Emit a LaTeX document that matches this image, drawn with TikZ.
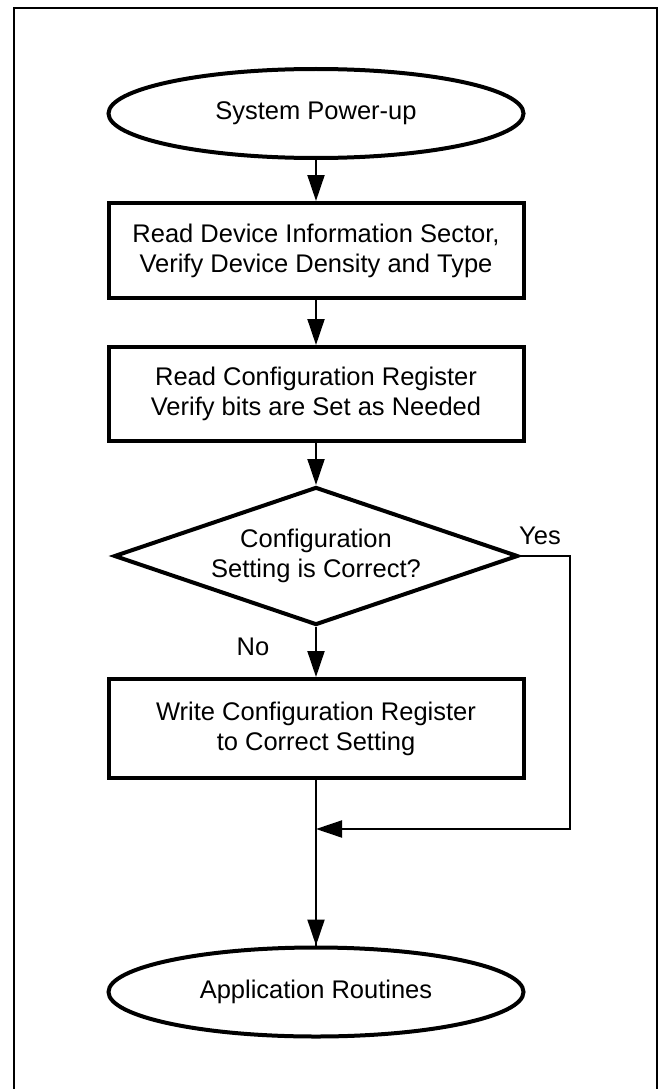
\documentclass[tikz,border=0pt]{standalone}
\usepackage{fontspec}
\setmainfont{Liberation Sans}
\usetikzlibrary{shapes.geometric,arrows.meta}
\begin{document}
\begin{tikzpicture}[x=1pt,y=1pt,
  every node/.style={font=\fontsize{25.5}{30}\selectfont},
  termbox/.style={ellipse, draw, line width=4pt, minimum width=415pt, minimum height=89pt, inner sep=0pt, align=center},
  procbox/.style={rectangle, draw, line width=4pt, minimum width=415pt, inner sep=0pt, align=center},
  decbox/.style={diamond, draw, line width=4pt, minimum width=404pt, minimum height=138pt, shape aspect=2.9, inner sep=0pt, align=center},
  flow/.style={line width=2pt, -{Triangle[length=26pt,width=17pt]}},
  lbl/.style={inner sep=0pt},
  frame/.style={line width=2.5pt}]
\useasboundingbox (0,0) rectangle (662,-1089);
\draw[frame] (14,-1089) -- (14,-8) -- (657,-8) -- (657,-1089);

\node[termbox] (start) at (316,-113.5) {System Power-up};
\node[procbox, minimum height=95pt] (rd) at (316,-250.5) {Read Device Information Sector,\\Verify Device Density and Type};
\node[procbox, minimum height=94pt] (rc) at (316,-394) {Read Configuration Register\\Verify bits are Set as Needed};
\node[decbox] (dec) at (316,-556) {Configuration\\Setting is Correct?};
\node[procbox, minimum height=99pt] (wc) at (316,-728.5) {Write Configuration Register\\to Correct Setting};
\node[termbox] (app) at (316,-992) {Application Routines};
\node[lbl] (yes) at (540,-536) {Yes};
\node[lbl] (no) at (253,-647) {No};
\coordinate (yr) at (570,-556);
\coordinate (yb) at (570,-829);
\coordinate (join) at (316,-829);

\draw[flow] (start) -- (rd);
\draw[flow] (rd) -- (rc);
\draw[flow] (rc) -- (dec);
\draw[flow] (dec) -- (wc);
\draw[line width=2pt] (wc) -- (app);
\draw[flow] (join) -- (app);
\draw[flow] (dec.east) -- (yr) -- (yb) -- (join);
\end{tikzpicture}
\end{document}
